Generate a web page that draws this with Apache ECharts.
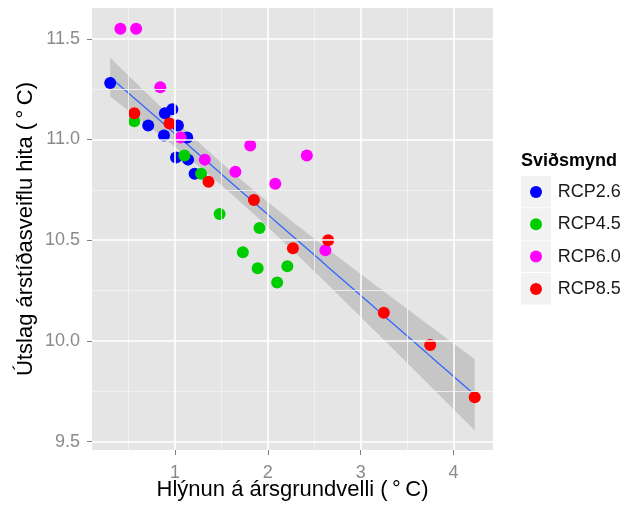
<!DOCTYPE html>
<html><head><meta charset="utf-8">
<script src="https://cdn.jsdelivr.net/npm/echarts@6/dist/echarts.min.js"></script>
<style>html,body{margin:0;padding:0;background:#fff}#c{width:623px;height:506px}</style>
</head><body><div id="c"></div>
<script>
const scenarios = ['RCP2.6', 'RCP4.5', 'RCP6.0', 'RCP8.5'];
const rcp26X = [0.30, 0.71, 0.89, 0.97, 1.03, 0.88, 1.13, 1.01, 1.14, 1.21];
const rcp26Y = [11.28, 11.07, 11.13, 11.15, 11.07, 11.02, 11.01, 10.91, 10.90, 10.83];
const rcp45X = [0.56, 1.10, 1.28, 1.48, 1.91, 1.73, 1.89, 2.21, 2.10];
const rcp45Y = [11.09, 10.92, 10.83, 10.63, 10.56, 10.44, 10.36, 10.37, 10.29];
const rcp60X = [0.41, 0.58, 0.84, 1.06, 1.32, 1.81, 1.65, 2.42, 2.08, 2.62];
const rcp60Y = [11.55, 11.55, 11.26, 11.01, 10.90, 10.97, 10.84, 10.92, 10.78, 10.45];
const rcp85X = [0.56, 0.94, 1.36, 1.85, 2.65, 2.27, 3.25, 3.75, 4.23];
const rcp85Y = [11.13, 11.08, 10.79, 10.70, 10.50, 10.46, 10.14, 9.98, 9.72];
const xTicks = [1, 2, 3, 4];
const yTicks = [9.5, 10.0, 10.5, 11.0, 11.5];
const xMinor = [0.5, 1.5, 2.5, 3.5];
const yMinor = [9.75, 10.25, 10.75, 11.25];

const colors = ['#0000FF', '#00CD00', '#FF00FF', '#FF0000'];
const xs = [rcp26X, rcp45X, rcp60X, rcp85X];
const ys = [rcp26Y, rcp45Y, rcp60Y, rcp85Y];

// linear model fit (geom_smooth method = lm) with 95% CI
const allX = [].concat(...xs), allY = [].concat(...ys);
const n = allX.length;
const mx = allX.reduce((a, b) => a + b, 0) / n;
const my = allY.reduce((a, b) => a + b, 0) / n;
let sxx = 0, sxy = 0;
for (let i = 0; i < n; i++) { sxx += (allX[i] - mx) ** 2; sxy += (allX[i] - mx) * (allY[i] - my); }
const slope = sxy / sxx, icpt = my - slope * mx;
let sse = 0;
for (let i = 0; i < n; i++) sse += (allY[i] - icpt - slope * allX[i]) ** 2;
const sRes = Math.sqrt(sse / (n - 2));
const tq = 2.028;
const xLo = Math.min(...allX), xHi = Math.max(...allX);
const bandX = [], bandLo = [], bandHi = [], fit = [];
for (let k = 0; k < 80; k++) {
  const x = xLo + (xHi - xLo) * k / 79;
  const yh = icpt + slope * x;
  const se = sRes * Math.sqrt(1 / n + (x - mx) ** 2 / sxx);
  bandX.push(x); bandLo.push(yh - tq * se); bandHi.push(yh + tq * se);
  fit.push([x, yh]);
}

const majorStyle = { color: '#FFFFFF', width: 1.6, type: 'solid' };
const minorStyle = { color: '#F2F2F2', width: 0.9, type: 'solid' };
const gridLines = [];
xMinor.forEach(v => gridLines.push({ xAxis: v, lineStyle: minorStyle }));
yMinor.forEach(v => gridLines.push({ yAxis: v, lineStyle: minorStyle }));
xTicks.forEach(v => gridLines.push({ xAxis: v, lineStyle: majorStyle }));
yTicks.forEach(v => gridLines.push({ yAxis: v, lineStyle: majorStyle }));

const FONT = 'Liberation Sans, Arial, Helvetica, sans-serif';
const chart = echarts.init(document.getElementById('c'), null, { renderer: 'canvas' });

const series = [
  {
    type: 'scatter', data: [], z: 1, silent: true,
    markLine: { silent: true, symbol: ['none', 'none'], label: { show: false }, animation: false,
      emphasis: { disabled: true }, data: gridLines }
  },
  {
    type: 'custom', z: 2, silent: true, data: [[bandX[0], bandLo[0]]],
    renderItem: function (params, api) {
      const pts = [];
      for (let i = 0; i < bandX.length; i++) pts.push(api.coord([bandX[i], bandHi[i]]));
      for (let i = bandX.length - 1; i >= 0; i--) pts.push(api.coord([bandX[i], bandLo[i]]));
      return { type: 'polygon', shape: { points: pts }, style: { fill: 'rgba(153,153,153,0.4)' } };
    }
  },
  {
    type: 'line', z: 3, silent: true, data: fit, showSymbol: false,
    lineStyle: { color: '#3366FF', width: 1.3 }
  }
];
scenarios.forEach((s, i) => {
  series.push({
    name: s, type: 'scatter', z: 4, symbol: 'circle', symbolSize: 12,
    itemStyle: { color: colors[i], opacity: 1 },
    emphasis: { disabled: true },
    data: xs[i].map((x, j) => [x, ys[i][j]])
  });
});

const keyRects = scenarios.map((s, i) => ({
  type: 'rect', z: 0, shape: { x: 521, y: 176 + i * 32.3, width: 30, height: 31.5 },
  style: { fill: '#F2F2F2' }
}));

chart.setOption({
  animation: false,
  textStyle: { fontFamily: FONT },
  grid: { left: 92, top: 8, width: 401, height: 442, show: true, backgroundColor: '#E5E5E5', borderWidth: 0,
    outerBoundsMode: 'none', containLabel: false },
  xAxis: {
    type: 'value', min: 0.104, max: 4.427,
    name: 'Hlýnun á ársgrundvelli (\u2009°\u2009C)', nameLocation: 'middle', nameGap: 29,
    nameMoveOverlap: false,
    nameTextStyle: { fontSize: 22, color: '#000', fontFamily: FONT },
    axisLine: { show: false },
    axisTick: { show: true, length: 5, customValues: xTicks, lineStyle: { color: '#7F7F7F', width: 1 } },
    axisLabel: { customValues: xTicks, fontSize: 18, color: '#8A8A8A', margin: 14, fontFamily: FONT,
      formatter: v => String(Math.round(v)) },
    splitLine: { show: false }
  },
  yAxis: {
    type: 'value', min: 9.458, max: 11.653,
    name: 'Útslag árstíðasveiflu hita (\u2009°\u2009C)', nameLocation: 'middle', nameGap: 55, nameRotate: 90,
    nameMoveOverlap: false,
    nameTextStyle: { fontSize: 22, color: '#000', fontFamily: FONT },
    axisLine: { show: false },
    axisTick: { show: true, length: 5, customValues: yTicks, lineStyle: { color: '#7F7F7F', width: 1 } },
    axisLabel: { customValues: yTicks, fontSize: 18, color: '#8A8A8A', margin: 12, fontFamily: FONT,
      formatter: v => v.toFixed(1) },
    splitLine: { show: false }
  },
  legend: {
    data: scenarios, orient: 'vertical', left: 530, top: 176, padding: 0,
    icon: 'circle', itemWidth: 33.4, itemHeight: 12, itemGap: 0.3,
    selectedMode: false,
    textStyle: { fontSize: 18, color: '#1A1A1A', lineHeight: 32, fontFamily: FONT }
  },
  graphic: [
    ...keyRects,
    { type: 'text', z: 5, left: 521, top: 152,
      style: { text: 'Sviðsmynd', font: 'bold 18px ' + FONT, fill: '#000' } }
  ],
  series: series
});
</script>
</body></html>
